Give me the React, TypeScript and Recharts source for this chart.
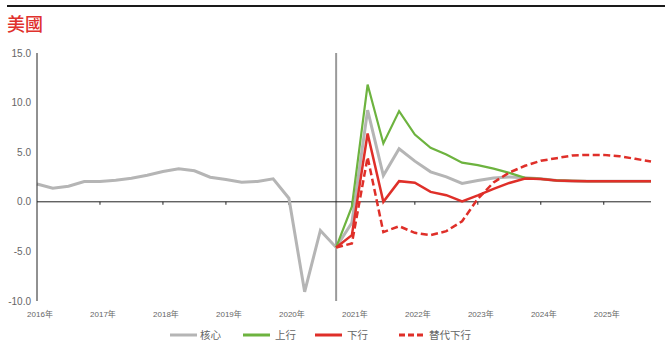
import React from "react";
import { LineChart, Line, XAxis, YAxis, ReferenceLine, Legend } from "recharts";

const quarters = [
  "2016Q1","2016Q2","2016Q3","2016Q4","2017Q1","2017Q2","2017Q3","2017Q4",
  "2018Q1","2018Q2","2018Q3","2018Q4","2019Q1","2019Q2","2019Q3","2019Q4",
  "2020Q1","2020Q2","2020Q3","2020Q4","2021Q1","2021Q2","2021Q3","2021Q4",
  "2022Q1","2022Q2","2022Q3","2022Q4","2023Q1","2023Q2","2023Q3","2023Q4",
  "2024Q1","2024Q2","2024Q3","2024Q4","2025Q1","2025Q2","2025Q3","2025Q4",
];

const tickQuarters = ["2016Q1","2017Q1","2018Q1","2019Q1","2020Q1","2021Q1","2022Q1","2023Q1","2024Q1","2025Q1"];
const tickLabels = ["2016年","2017年","2018年","2019年","2020年","2021年","2022年","2023年","2024年","2025年"];
const yTicks = [-10, -5, 0, 5, 10, 15];

const core = [
  1.8, 1.37, 1.57, 2.05, 2.05, 2.18, 2.38, 2.68, 3.05, 3.33, 3.13, 2.48, 2.25, 1.98, 2.05, 2.32,
  0.36, -9.07, -2.89, -4.6, -2.12, 9.24, 2.65, 5.34, 4.1, 3.02, 2.52, 1.85, 2.15, 2.4, 2.5, 2.42,
  2.32, 2.15, 2.1, 2.08, 2.08, 2.08, 2.08, 2.08,
];
const upside = [
  null, null, null, null, null, null, null, null, null, null, null, null, null, null, null, null,
  null, null, null, -4.6, -0.5, 11.82, 5.88, 9.14, 6.78, 5.44, 4.77, 3.95, 3.7, 3.35, 2.92, 2.42,
  2.32, 2.15, 2.1, 2.08, 2.08, 2.08, 2.08, 2.08,
];
const downside = [
  null, null, null, null, null, null, null, null, null, null, null, null, null, null, null, null,
  null, null, null, -4.6, -3.36, 6.88, 0.0, 2.08, 1.92, 1.0, 0.67, 0.05, 0.65, 1.3, 1.9, 2.35,
  2.3, 2.15, 2.1, 2.08, 2.08, 2.08, 2.08, 2.08,
];
const altDownside = [
  null, null, null, null, null, null, null, null, null, null, null, null, null, null, null, null,
  null, null, null, -4.6, -4.2, 4.5, -3.06, -2.46, -3.13, -3.36, -2.96, -1.96, 0.3, 1.95, 2.95, 3.63,
  4.13, 4.4, 4.67, 4.73, 4.73, 4.6, 4.33, 4.06,
];

const seriesNames = { core: "核心", up: "上行", down: "下行", alt: "替代下行" };

const data = quarters.map((q, i) => ({
  q,
  core: core[i],
  up: upside[i],
  down: downside[i],
  alt: altDownside[i],
}));

const GRAY = "#b5b5b5";
const GREEN = "#6db33f";
const RED = "#df2f29";
const FONT = "'Liberation Sans', Arial, 'Noto Sans CJK TC', sans-serif";

const legendLayout: Record<string, { line: number; w: number; text: number }> = {
  core: { line: 170, w: 27, text: 200 },
  up: { line: 243, w: 27, text: 275 },
  down: { line: 315, w: 27, text: 347 },
  alt: { line: 399, w: 24, text: 429 },
};

const LegendContent = (props: any) => {
  const payload = props.payload || [];
  return (
    <div style={{ position: "relative", width: 665, height: 10 }}>
      {payload.map((entry: any) => {
        const key = String(entry.dataKey);
        const lay = legendLayout[key];
        if (!lay) return null;
        const dashed = key === "alt";
        return (
          <React.Fragment key={key}>
            <svg
              width={lay.w}
              height={10}
              style={{ position: "absolute", left: lay.line, top: 0 }}
            >
              <line
                x1={0}
                y1={5}
                x2={lay.w}
                y2={5}
                stroke={entry.color}
                strokeWidth={3}
                strokeDasharray={dashed ? "6 3" : undefined}
              />
            </svg>
            <span
              style={{
                position: "absolute",
                left: lay.text,
                top: -1,
                fontSize: 10.5,
                lineHeight: "12px",
                color: "#666",
                fontFamily: FONT,
                whiteSpace: "nowrap",
              }}
            >
              {entry.value}
            </span>
          </React.Fragment>
        );
      })}
    </div>
  );
};

export default function App() {
  return (
    <div style={{ position: "absolute", left: 0, top: 0, width: 665, height: 340, background: "#fff" }}>
      <div style={{ position: "absolute", left: 7, top: 5, width: 658, height: 2, background: "#1a1a1a" }} />
      <div
        style={{
          position: "absolute",
          left: 7,
          top: 11,
          fontSize: 18,
          lineHeight: "24px",
          color: "#e0312d",
          fontFamily: "'Noto Sans CJK TC', sans-serif",
          fontWeight: 500,
        }}
      >
        美國
      </div>
      <LineChart
        width={665}
        height={340}
        data={data}
        margin={{ top: 53, right: 14, bottom: 0, left: 0 }}
        style={{ position: "absolute", left: 0, top: 0 }}
      >
        <XAxis
          dataKey="q"
          ticks={tickQuarters}
          interval={0}
          tickFormatter={(v: string) => tickLabels[tickQuarters.indexOf(v)] ?? ""}
          axisLine={false}
          tickLine={false}
          tickSize={0}
          tickMargin={10}
          height={29}
          tick={{ fontSize: 8, fill: "#666", fontFamily: FONT, dx: 3 }}
        />
        <YAxis
          domain={[-10, 15]}
          ticks={yTicks}
          interval={0}
          width={37}
          tickFormatter={(v: number) => v.toFixed(1)}
          axisLine={{ stroke: "#222", strokeWidth: 1 }}
          tickLine={false}
          tickSize={0}
          tickMargin={6}
          tick={{ fontSize: 10, fill: "#666", fontFamily: FONT }}
        />
        <ReferenceLine x="2020Q4" stroke="#9a9a9a" strokeWidth={2} ifOverflow="extendDomain" />
        <ReferenceLine y={0} stroke="#222" strokeWidth={1} />
        {tickQuarters.slice(1).map((q) => (
          <ReferenceLine
            key={q}
            segment={[
              { x: q, y: 0 },
              { x: q, y: -0.3 },
            ]}
            stroke="#222"
            strokeWidth={1}
          />
        ))}
        <Line
          type="linear"
          dataKey="core"
          name={seriesNames.core}
          stroke={GRAY}
          strokeWidth={3}
          dot={false}
          isAnimationActive={false}
        />
        <Line
          type="linear"
          dataKey="up"
          name={seriesNames.up}
          stroke={GREEN}
          strokeWidth={2.2}
          dot={false}
          isAnimationActive={false}
        />
        <Line
          type="linear"
          dataKey="down"
          name={seriesNames.down}
          stroke={RED}
          strokeWidth={2.5}
          dot={false}
          isAnimationActive={false}
        />
        <Line
          type="linear"
          dataKey="alt"
          name={seriesNames.alt}
          stroke={RED}
          strokeWidth={2.5}
          strokeDasharray="7 3.5"
          dot={false}
          isAnimationActive={false}
        />
        <Legend
          verticalAlign="bottom"
          content={<LegendContent />}
          wrapperStyle={{ left: 0, width: 665 }}
        />
      </LineChart>
    </div>
  );
}
